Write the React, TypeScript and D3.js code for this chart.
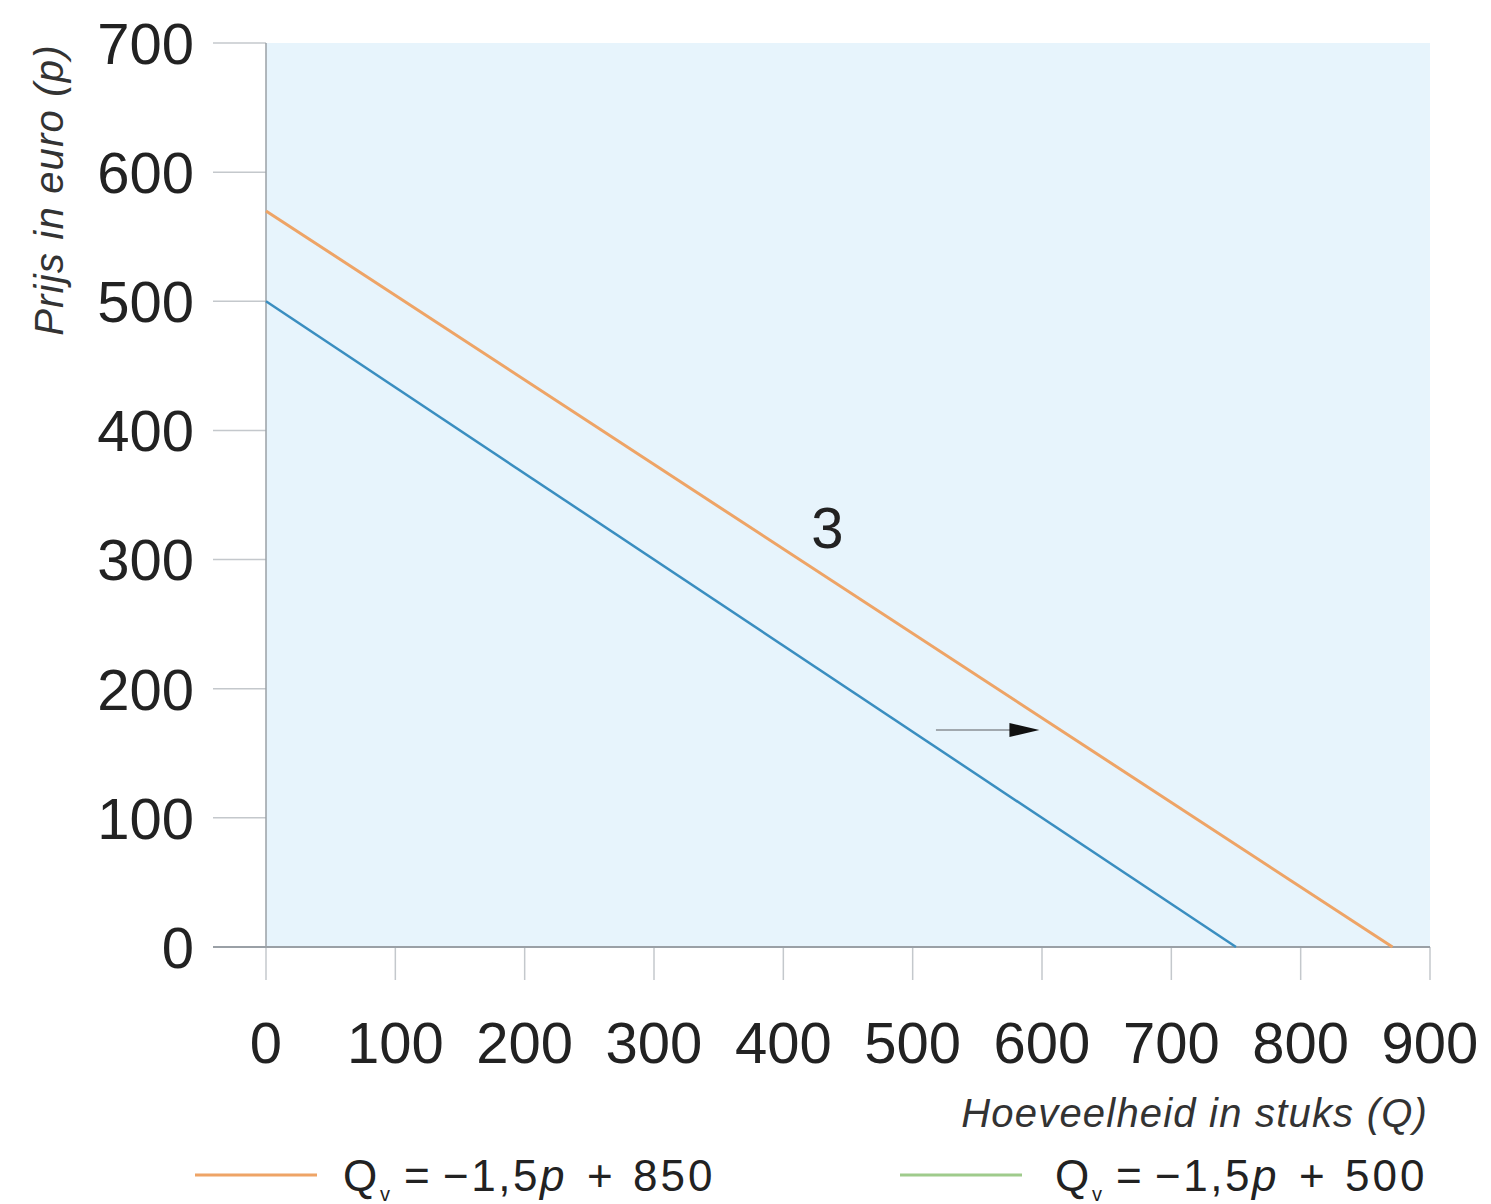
import React from "react";
import * as d3 from "d3";

const xTicks = [0, 100, 200, 300, 400, 500, 600, 700, 800, 900];
const yTicks = [0, 100, 200, 300, 400, 500, 600, 700];
const lineNew = [
  { q: 0, p: 570 },
  { q: 871, p: 0 },
];
const lineOld = [
  { q: 0, p: 500 },
  { q: 750, p: 0 },
];
const arrowPts = [
  { q: 518, p: 168 },
  { q: 598, p: 168 },
];
const labelPt = { q: 434, p: 325, text: "3" };
const legendItems = [
  { label: "850", color: "#eea466" },
  { label: "500", color: "#9fcb8c" },
];

const W = 1491;
const H = 1204;
const FONT = "'Liberation Sans', Arial, sans-serif";

export default function App() {
  const x = d3.scaleLinear().domain([0, 900]).range([266, 1430]);
  const y = d3.scaleLinear().domain([0, 700]).range([947, 43]);
  const line = d3
    .line<{ q: number; p: number }>()
    .x((d) => x(d.q))
    .y((d) => y(d.p));

  const ax0 = x(arrowPts[0].q);
  const ax1 = x(arrowPts[1].q);
  const ay = y(arrowPts[0].p);

  const legendLineX = [195, 900];
  const legendTextX = [343, 1055];

  return (
    <svg
      width={W}
      height={H}
      style={{ position: "absolute", left: 0, top: 0, background: "#fff" }}
      fontFamily={FONT}
    >
      <rect x={x(0)} y={y(700)} width={x(900) - x(0)} height={y(0) - y(700)} fill="#e7f4fc" />
      {yTicks.map((t) => (
        <g key={"y" + t}>
          <line x1={213} x2={x(0)} y1={y(t)} y2={y(t)} stroke="#c4c8cc" strokeWidth={1.5} />
          <text x={194} y={y(t)} dy="0.36em" textAnchor="end" fontSize={58} fill="#222">
            {t}
          </text>
        </g>
      ))}
      {xTicks.map((t) => (
        <g key={"x" + t}>
          <line x1={x(t)} x2={x(t)} y1={y(0)} y2={980} stroke="#c4c8cc" strokeWidth={1.5} />
          <text x={x(t)} y={1063} textAnchor="middle" fontSize={58} fill="#222">
            {t}
          </text>
        </g>
      ))}
      <line x1={x(0)} x2={x(0)} y1={y(700)} y2={y(0)} stroke="#9aa0a6" strokeWidth={1.5} />
      <line x1={213} x2={x(900)} y1={y(0)} y2={y(0)} stroke="#9aa0a6" strokeWidth={2} />

      <path d={line(lineOld) || ""} fill="none" stroke="#3a8ec0" strokeWidth={2.5} />
      <path d={line(lineNew) || ""} fill="none" stroke="#eea466" strokeWidth={3} />

      <line x1={ax0} x2={ax1 - 28} y1={ay} y2={ay} stroke="#8a8f94" strokeWidth={1.5} />
      <path d={`M${ax1 - 30},${ay - 7} L${ax1},${ay} L${ax1 - 30},${ay + 7} Z`} fill="#111" />

      <text x={x(labelPt.q)} y={y(labelPt.p)} dy="0.36em" textAnchor="middle" fontSize={58} fill="#222">
        {labelPt.text}
      </text>

      <text
        transform={`translate(63,190) rotate(-90)`}
        textAnchor="middle"
        fontSize={40}
        letterSpacing={1.2}
        fontStyle="italic"
        fill="#333"
      >
        Prijs in euro (p)
      </text>
      <text x={1428} y={1127} textAnchor="end" fontSize={40} letterSpacing={1.2} fontStyle="italic" fill="#333">
        Hoeveelheid in stuks (Q)
      </text>

      {legendItems.map((it, i) => {
        const tx = legendTextX[i];
        return (
          <g key={"l" + i}>
            <line x1={legendLineX[i]} x2={legendLineX[i] + 122} y1={1175} y2={1175} stroke={it.color} strokeWidth={3} />
            <text y={1191} fontSize={44} fill="#222">
              <tspan x={tx}>Q</tspan>
              <tspan x={tx + 37} dy={10} fontSize={20}>v</tspan>
              <tspan x={tx + 61} dy={-10}>=</tspan>
              <tspan x={tx + 100} letterSpacing={2.5}>−1,5</tspan>
              <tspan fontStyle="italic">p</tspan>
              <tspan x={tx + 244}>+</tspan>
              <tspan x={tx + 290} letterSpacing={3}>{it.label}</tspan>
            </text>
          </g>
        );
      })}
    </svg>
  );
}
